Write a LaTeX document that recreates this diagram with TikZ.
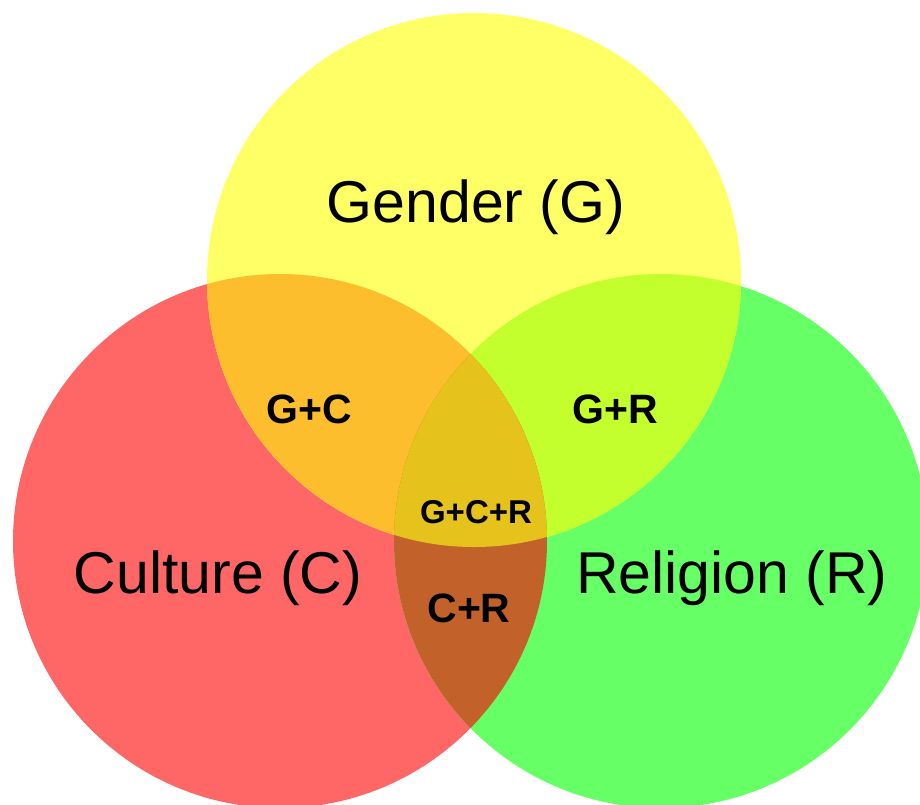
\documentclass[tikz,border=0pt]{standalone}
\usepackage{fontspec}
\setmainfont{Liberation Sans}

\definecolor{genfill}{HTML}{FFFF66}
\definecolor{culfill}{HTML}{FF6666}
\definecolor{relfill}{HTML}{66FF66}
\definecolor{gcfill}{HTML}{FCBE2C}
\definecolor{grfill}{HTML}{C2FF2C}
\definecolor{crfill}{HTML}{C2622A}
\definecolor{gcrfill}{HTML}{E6C21C}

\begin{document}
\begin{tikzpicture}[
    x=1pt, y=-1pt,
    setname/.style={font=\fontsize{59}{61}\selectfont, anchor=base, inner sep=0pt},
    pairname/.style={font=\fontsize{41}{44}\selectfont\bfseries, anchor=base, inner sep=0pt},
    triname/.style={font=\fontsize{33}{36}\selectfont\bfseries, anchor=base, inner sep=0pt},
]
\useasboundingbox[fill=white] (0,0) rectangle (920,804);

% === Circle centres ===
\coordinate (gen) at (474,280);
\coordinate (cul) at (280,541);
\coordinate (rel) at (661,541);
\def\rad{267pt}

% === Single sets ===
\fill[culfill] (cul) circle[radius=\rad];
\fill[relfill] (rel) circle[radius=\rad];
\fill[genfill] (gen) circle[radius=\rad];

% === Pairwise overlaps ===
\begin{scope}
  \clip (gen) circle[radius=\rad];
  \fill[gcfill] (cul) circle[radius=\rad];
  \fill[grfill] (rel) circle[radius=\rad];
\end{scope}
\begin{scope}
  \clip (cul) circle[radius=\rad];
  \fill[crfill] (rel) circle[radius=\rad];
\end{scope}

% === Triple overlap ===
\begin{scope}
  \clip (gen) circle[radius=\rad];
  \clip (cul) circle[radius=\rad];
  \fill[gcrfill] (rel) circle[radius=\rad];
\end{scope}

% === Labels ===
\node[setname] (gender) at (476,222) {Gender (G)};
\node[setname] (culture) at (218,593) {Culture (C)};
\node[setname] (religion) at (732,593) {Religion (R)};

\node[pairname] (gc) at (309,423) {G+C};
\node[pairname] (gr) at (615,423) {G+R};
\node[pairname] (cr) at (469,622) {C+R};
\node[triname] (gcr) at (476,523) {G+C+R};

\end{tikzpicture}
\end{document}
